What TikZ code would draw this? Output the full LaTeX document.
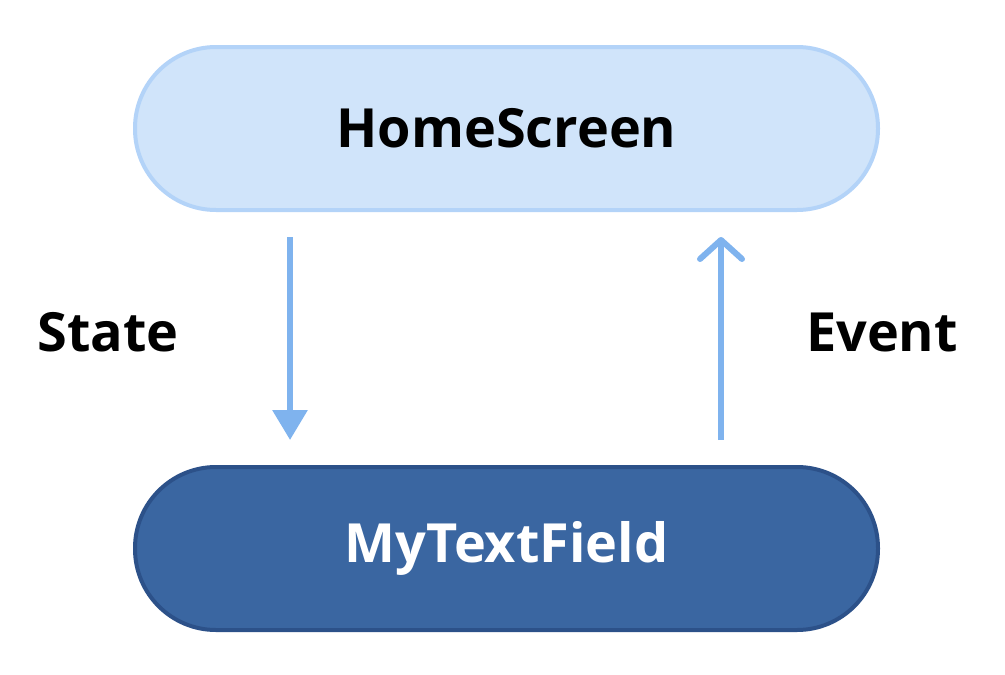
\documentclass[tikz,border=0pt]{standalone}
\usepackage{fontspec}
\setmainfont{Open Sans}
\usetikzlibrary{arrows.meta}
\definecolor{topfill}{HTML}{D0E4FA}
\definecolor{topline}{HTML}{B3D3F8}
\definecolor{botfill}{HTML}{3A66A1}
\definecolor{botline}{HTML}{2C5189}
\definecolor{arr}{HTML}{7FB3EE}
\tikzset{
  pill/.style={rounded corners=81pt, minimum width=743pt, minimum height=163pt, line width=4pt, font=\fontsize{54}{58}\selectfont\bfseries, inner sep=0pt},
  toppill/.style={pill, draw=topline, fill=topfill, text=black},
  botpill/.style={pill, draw=botline, fill=botfill, text=white},
  lbl/.style={font=\fontsize{54}{58}\selectfont\bfseries, text=black, inner sep=0pt},
  conn/.style={draw=arr, line width=6pt}
}
\begin{document}
\begin{tikzpicture}[x=1pt,y=-1pt]
\useasboundingbox (0,0) rectangle (1005,675);
\node[toppill] (home) at (506.5,128.5) {HomeScreen};
\node[botpill] (field) at (506.5,548.5) {MyTextField};
\coordinate (s1) at (290,237);
\coordinate (s2) at (290,440);
\coordinate (e1) at (721,440);
\coordinate (e2) at (721,237);
\draw[conn, -{Triangle[width=34pt,length=30pt]}] (s1) -- (s2);
\draw[conn, -{Straight Barb[width=42pt,length=19pt,line width=6pt,round]}] (e1) -- (e2);
\node[lbl] (state) at (108,332) {State};
\node[lbl] (event) at (882,332) {Event};
\end{tikzpicture}
\end{document}
